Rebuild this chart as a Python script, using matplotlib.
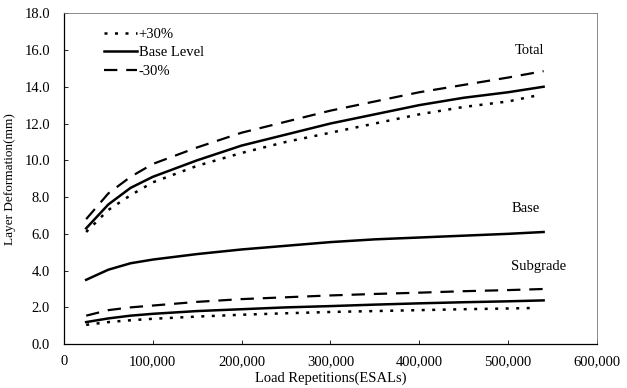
import matplotlib
matplotlib.use('Agg')
import numpy as np
import matplotlib.pyplot as plt
from matplotlib.ticker import FuncFormatter

plt.rc('font', family='Liberation Serif', size=10)

# load repetitions (ESALs)
esals = [25000, 50000, 75000, 100000, 150000, 200000, 250000, 300000,
         350000, 400000, 450000, 500000, 540000]
esals_short = esals[:-1] + [530000]

# layer deformation (mm)
total_base = [6.3, 7.6, 8.5, 9.1, 10.0, 10.8, 11.4, 12.0, 12.5, 13.0, 13.4, 13.7, 14.0]
total_minus = [6.8, 8.2, 9.1, 9.8, 10.7, 11.5, 12.1, 12.7, 13.2, 13.7, 14.1, 14.5, 14.85]
total_plus = [6.1, 7.3, 8.1, 8.8, 9.7, 10.4, 11.0, 11.5, 12.0, 12.5, 12.9, 13.2, 13.5]

base_base = [3.5, 4.05, 4.4, 4.6, 4.9, 5.15, 5.35, 5.55, 5.7, 5.8, 5.9, 6.0, 6.1]

sub_base = [1.2, 1.4, 1.55, 1.65, 1.8, 1.9, 2.0, 2.07, 2.15, 2.22, 2.28, 2.33, 2.38]
sub_minus = [1.55, 1.85, 2.0, 2.1, 2.3, 2.45, 2.55, 2.65, 2.73, 2.8, 2.88, 2.94, 3.0]
sub_plus = [1.05, 1.2, 1.3, 1.38, 1.5, 1.6, 1.68, 1.75, 1.8, 1.85, 1.9, 1.94, 1.97]

dot = (0, (1.2, 3.0))
dash = (0, (6, 4))

fig = plt.figure(figsize=(6.27, 3.88), dpi=100)
ax = fig.add_axes([0.102, 0.113, 0.85, 0.853])

# total
ax.plot(esals_short, total_plus, color='black', lw=1.8, linestyle=dot, label='+30%')
ax.plot(esals, total_base, color='black', lw=1.8, linestyle='-', label='Base Level')
ax.plot(esals, total_minus, color='black', lw=1.6, linestyle=dash, label='-30%')
# base
ax.plot(esals, base_base, color='black', lw=1.8, linestyle='-')
# subgrade
ax.plot(esals_short, sub_plus, color='black', lw=1.8, linestyle=dot)
ax.plot(esals, sub_base, color='black', lw=1.8, linestyle='-')
ax.plot(esals, sub_minus, color='black', lw=1.6, linestyle=dash)

ax.text(508000, 15.95, 'Total', fontsize=10.5, va='center')
ax.text(504000, 7.4, 'Base', fontsize=10.5, va='center')
ax.text(503000, 4.25, 'Subgrade', fontsize=10.5, va='center')

ax.set_xlim(0, 600000)
ax.set_ylim(0, 18)
ax.set_xticks(np.arange(0, 600001, 100000))
ax.set_yticks(np.arange(0, 18.1, 2))
ax.xaxis.set_major_formatter(FuncFormatter(lambda v, p: '{:,.0f}'.format(v)))
ax.yaxis.set_major_formatter(FuncFormatter(lambda v, p: '{:.1f}'.format(v)))
ax.tick_params(direction='in', length=3, width=0.6, labelsize=10.5)
ax.tick_params(axis='x', pad=8)
ax.tick_params(axis='y', pad=10)
for side in ['top', 'right']:
    ax.spines[side].set_color('#777777')
    ax.spines[side].set_linewidth(0.6)
for side in ['left', 'bottom']:
    ax.spines[side].set_linewidth(0.9)

ax.set_xlabel('Load Repetitions(ESALs)', fontsize=10.5, labelpad=2)
ax.set_ylabel('Layer Deformation(mm)', fontsize=9.5, labelpad=6)

ax.legend(loc='upper left', frameon=False, handlelength=2.3, handletextpad=0.1,
          labelspacing=0.35, fontsize=10.5, bbox_to_anchor=(0.05, 0.995))

fig.savefig('out.png', dpi=100)
